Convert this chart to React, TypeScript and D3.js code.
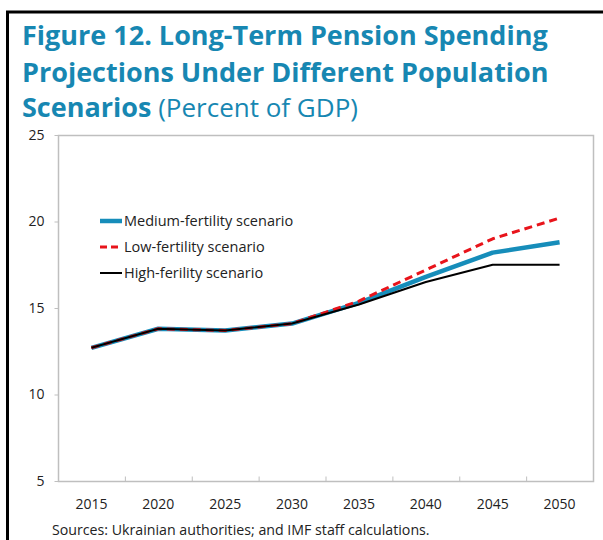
import React, { useEffect, useRef } from 'react';
import * as d3 from 'd3';

// data
const years = ['2015', '2020', '2025', '2030', '2035', '2040', '2045', '2050'];
const medium = [12.7, 13.8, 13.7, 14.1, 15.3, 16.8, 18.2, 18.8];
const low = [12.7, 13.8, 13.7, 14.1, 15.4, 17.2, 19.0, 20.2];
const high = [12.7, 13.8, 13.7, 14.1, 15.2, 16.5, 17.5, 17.5];
const yTicks = [5, 10, 15, 20, 25];

const series = [
  { name: 'Medium-fertility scenario', values: medium, color: '#168dba', width: 4.5, dash: null },
  { name: 'Low-fertility scenario', values: low, color: '#e8141b', width: 3, dash: '8,5' },
  { name: 'High-ferility scenario', values: high, color: '#000000', width: 2, dash: null },
];

const W = 603;
const H = 540;
const font = '"Open Sans", "Noto Sans", sans-serif';

const App = () => {
  const svgRef = useRef<SVGSVGElement>(null);

  useEffect(() => {
    const svg = d3.select(svgRef.current);
    svg.selectAll('*').remove();

    const plot = { left: 58, right: 593, top: 135, bottom: 481 };

    const x = d3.scaleBand().domain(years).range([plot.left, plot.right]);
    const y = d3.scaleLinear().domain([5, 25]).range([plot.bottom, plot.top]);

    // outer black frame (top and left)
    svg.append('line').attr('x1', 6).attr('x2', W).attr('y1', 12).attr('y2', 12)
      .attr('stroke', '#000').attr('stroke-width', 3);
    svg.append('line').attr('x1', 7.5).attr('x2', 7.5).attr('y1', 11).attr('y2', H)
      .attr('stroke', '#000').attr('stroke-width', 3);

    // title
    const title = svg.append('g').attr('fill', '#1787b2').attr('font-family', font).attr('font-size', 27);
    title.append('text').attr('x', 22).attr('y', 45).attr('font-weight', 700)
      .text('Figure 12. Long-Term Pension Spending');
    title.append('text').attr('x', 22).attr('y', 82).attr('font-weight', 700)
      .text('Projections Under Different Population');
    const t3 = title.append('text').attr('x', 22).attr('y', 117);
    t3.append('tspan').attr('font-weight', 700).text('Scenarios');
    t3.append('tspan').attr('font-weight', 400).attr('font-size', 26).text(' (Percent of GDP)');

    // plot frame
    svg.append('rect')
      .attr('x', plot.left + 0.5).attr('y', plot.top + 0.5)
      .attr('width', plot.right - plot.left).attr('height', plot.bottom - plot.top)
      .attr('fill', 'none').attr('stroke', '#bfbfbf').attr('stroke-width', 1.5);

    // y axis
    const yAxis = svg.append('g')
      .attr('transform', `translate(${plot.left + 0.5},0)`)
      .call(d3.axisLeft(y).tickValues(yTicks).tickSize(4).tickPadding(10));
    yAxis.select('.domain').remove();
    yAxis.selectAll('line').attr('stroke', '#bfbfbf');
    yAxis.selectAll('text').attr('font-family', font).attr('font-size', 14).attr('fill', '#222');

    // x axis: ticks at band boundaries, pointing up
    const xAxis = svg.append('g').attr('transform', `translate(0,${plot.bottom + 0.5})`);
    xAxis.selectAll('line')
      .data(years.slice(1))
      .enter()
      .append('line')
      .attr('x1', d => x(d)! + 0.5).attr('x2', d => x(d)! + 0.5)
      .attr('y1', 0).attr('y2', -5)
      .attr('stroke', '#bfbfbf');
    xAxis.selectAll('text')
      .data(years)
      .enter()
      .append('text')
      .attr('x', d => x(d)! + x.bandwidth() / 2)
      .attr('y', 27)
      .attr('text-anchor', 'middle')
      .attr('font-family', font).attr('font-size', 14).attr('fill', '#222')
      .text(d => d);

    // lines
    const line = d3.line<number>()
      .x((_, i) => x(years[i])! + x.bandwidth() / 2)
      .y(d => y(d));

    series.forEach(s => {
      svg.append('path')
        .datum(s.values)
        .attr('d', line)
        .attr('fill', 'none')
        .attr('stroke', s.color)
        .attr('stroke-width', s.width)
        .attr('stroke-dasharray', s.dash)
        .attr('stroke-linejoin', 'round');
    });

    // legend
    const legend = svg.append('g').attr('transform', 'translate(100,221)');
    series.forEach((s, i) => {
      const g = legend.append('g').attr('transform', `translate(0,${i * 26})`);
      g.append('line').attr('x1', 0).attr('x2', 22).attr('y1', 0).attr('y2', 0)
        .attr('stroke', s.color).attr('stroke-width', s.width)
        .attr('stroke-dasharray', s.dash ? '7,4' : null);
      g.append('text').attr('x', 24).attr('y', 5)
        .attr('font-family', font).attr('font-size', 14.5).attr('fill', '#222')
        .text(s.name);
    });

    // source note
    svg.append('text')
      .attr('x', 52).attr('y', 535)
      .attr('font-family', font).attr('font-size', 14.2).attr('fill', '#222')
      .text('Sources: Ukrainian authorities; and IMF staff calculations.');
  }, []);

  return (
    <div style={{ position: 'absolute', left: 0, top: 0 }}>
      <svg ref={svgRef} width={W} height={H} style={{ display: 'block' }}></svg>
    </div>
  );
};

export default App;
